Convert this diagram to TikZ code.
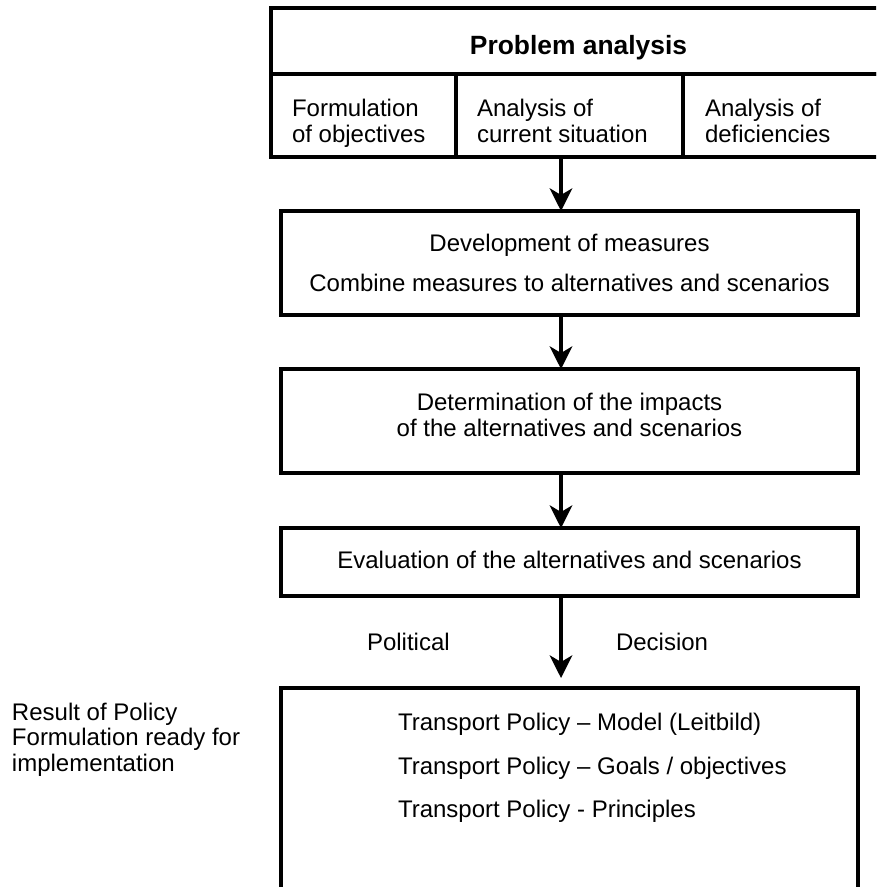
\documentclass[tikz,border=0pt]{standalone}
\usepackage{fontspec}
\setmainfont{Liberation Sans}
\usetikzlibrary{arrows.meta,fit}
\begin{document}
\begin{tikzpicture}[x=0.75pt,y=-0.75pt,
  box/.style={draw, line width=2.5pt, inner sep=0pt, outer sep=0pt},
  txt/.style={inner sep=0pt, outer sep=0pt, font=\fontsize{18pt}{21pt}\selectfont},
  ttl/.style={inner sep=0pt, outer sep=0pt, font=\fontsize{19.8pt}{23pt}\selectfont\bfseries},
  flow/.style={line width=2.5pt, -{Stealth[length=17pt,width=17pt,inset=5pt]}}]
\useasboundingbox (0,0) rectangle (876,887);
\clip (0,0) rectangle (876,887);
% boxes
\node[box, fit={(271,8) (886,74)}] (pa) {};
\node[box, fit={(271,74) (456,157)}] (c1) {};
\node[box, fit={(456,74) (683,157)}] (c2) {};
\node[box, fit={(683,74) (886,157)}] (c3) {};
\node[box, fit={(281,211) (858,315)}] (b2) {};
\node[box, fit={(281,369) (858,473)}] (b3) {};
\node[box, fit={(281,528) (858,596)}] (b4) {};
\node[box, fit={(281,688) (858,905)}] (b5) {};
% texts
\node[ttl, anchor=base] (pat) at (578.5,55) {Problem analysis};
\node[txt, anchor=base west] (c1a) at (292,117) {Formulation};
\node[txt, anchor=base west] (c1b) at (292,143) {of objectives};
\node[txt, anchor=base west] (c2a) at (477,117) {Analysis of};
\node[txt, anchor=base west] (c2b) at (477,143) {current situation};
\node[txt, anchor=base west] (c3a) at (705,117) {Analysis of};
\node[txt, anchor=base west] (c3b) at (705,143) {deficiencies};
\node[txt, anchor=base] (b2a) at (569.5,251.7) {Development of measures};
\node[txt, anchor=base] (b2b) at (569.5,291.7) {Combine measures to alternatives and scenarios};
\node[txt, anchor=base] (b3a) at (569.5,410.3) {Determination of the impacts};
\node[txt, anchor=base] (b3b) at (569.5,436.7) {of the alternatives and scenarios};
\node[txt, anchor=base] (b4a) at (569.5,568) {Evaluation of the alternatives and scenarios};
\node[txt, anchor=base west] (pol) at (367,650) {Political};
\node[txt, anchor=base west] (dec) at (616,650) {Decision};
\node[txt, anchor=base west] (b5a) at (398,730.7) {Transport Policy – Model (Leitbild)};
\node[txt, anchor=base west] (b5b) at (398,774) {Transport Policy – Goals / objectives};
\node[txt, anchor=base west] (b5c) at (398,817) {Transport Policy - Principles};
\node[txt, anchor=base west] (r1) at (12,720) {Result of Policy};
\node[txt, anchor=base west] (r2) at (12,745.7) {Formulation ready for};
\node[txt, anchor=base west] (r3) at (12,771) {implementation};
% connectors
\coordinate (ax) at (561,0);
\coordinate (a4end) at (561,678);
\draw[flow] (c2.south -| ax) -- (b2.north -| ax);
\draw[flow] (b2.south -| ax) -- (b3.north -| ax);
\draw[flow] (b3.south -| ax) -- (b4.north -| ax);
\draw[flow] (b4.south -| ax) -- (a4end);
\end{tikzpicture}
\end{document}
